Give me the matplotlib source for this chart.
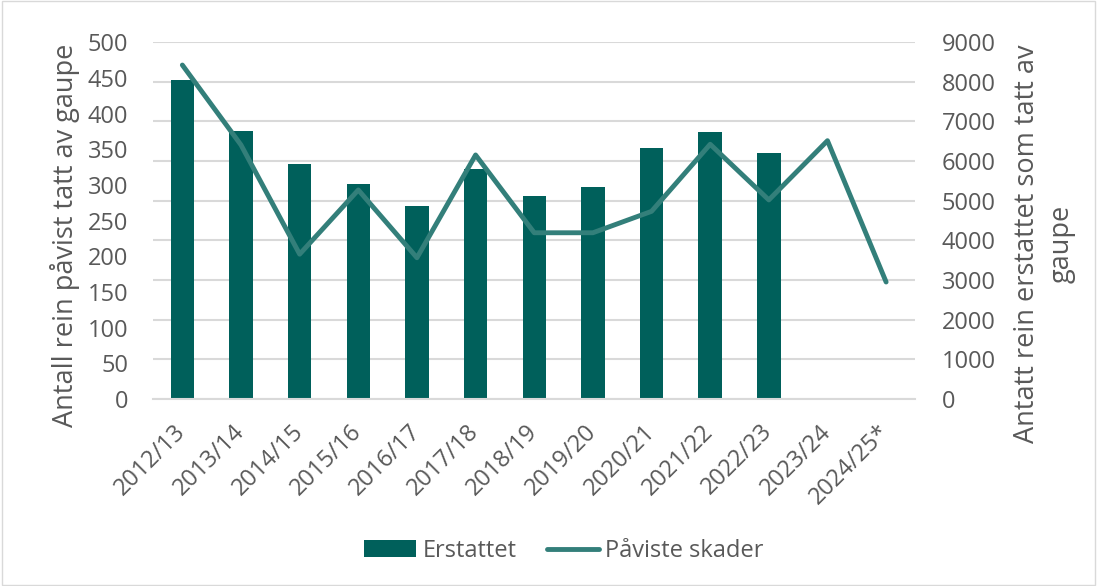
import numpy as np
import matplotlib.pyplot as plt
from matplotlib.lines import Line2D
from matplotlib.patches import Patch

plt.rcParams["font.family"] = ["Open Sans", "DejaVu Sans"]

seasons = ["2012/13", "2013/14", "2014/15", "2015/16", "2016/17", "2017/18", "2018/19",
           "2019/20", "2020/21", "2021/22", "2022/23", "2023/24", "2024/25*"]
# Erstattet (right axis), missing for the last two seasons
erstattet = [8050, 6770, 5930, 5420, 4860, 5800, 5110, 5340, 6330, 6730, 6210, np.nan, np.nan]
# Påviste skader (left axis)
paviste = [468, 356, 203, 293, 198, 342, 233, 233, 263, 357, 279, 362, 164]

bar_color = "#00605B"
line_color = "#337F7A"
text_color = "#595959"
grid_color = "#D9D9D9"

fig = plt.figure(figsize=(10.97, 5.86), dpi=100)
fig.patches.append(plt.Rectangle((0.002, 0.002), 0.996, 0.996, transform=fig.transFigure,
                                 fill=False, edgecolor=grid_color, linewidth=1))
ax = fig.add_axes([0.1395, 0.319, 0.695, 0.609])
ax2 = ax.twinx()

x = np.arange(len(seasons))
ax2.bar(x, erstattet, width=0.4, color=bar_color, zorder=2)
ax.plot(x, paviste, color=line_color, linewidth=3.5, solid_capstyle="round",
        solid_joinstyle="round", zorder=3)

# line above the bars
ax.set_zorder(ax2.get_zorder() + 1)
ax.patch.set_visible(False)

ax.set_xlim(-0.5, len(seasons) - 0.5)
ax.set_ylim(0, 500)
ax2.set_ylim(0, 9000)
ax.set_yticks(np.arange(0, 501, 50))
ax2.set_yticks(np.arange(0, 9001, 1000))
ax2.yaxis.grid(True, color=grid_color, linewidth=1.5, zorder=0)
ax2.set_axisbelow(True)

ax.set_xticks(x)
ax.set_xticklabels(seasons, rotation=45, ha="right", va="center", rotation_mode="anchor")

for a in (ax, ax2):
    for s in a.spines.values():
        s.set_visible(False)
    a.tick_params(length=0, colors=text_color, labelsize=17)
ax.tick_params(axis="x", labelsize=17, pad=21)
ax.tick_params(axis="y", pad=18)
ax2.tick_params(axis="y", pad=19)
ax2.spines["bottom"].set_visible(True)
ax2.spines["bottom"].set_color(grid_color)
ax2.spines["bottom"].set_linewidth(1.5)

fig.text(0.0597, 0.599, "Antall rein påvist tatt av gaupe", rotation=90, ha="center",
         va="center", color=text_color, fontsize=19.5)
fig.text(0.952, 0.584, "Antatt rein erstattet som tatt av\ngaupe", rotation=90, ha="center",
         va="center", multialignment="center", color=text_color, fontsize=19.5,
         linespacing=1.3)

handles = [Patch(facecolor=bar_color), Line2D([], [], color=line_color, linewidth=3.5,
                                              solid_capstyle="round")]
fig.legend(handles, ["Erstattet", "Påviste skader"], loc="center", bbox_to_anchor=(0.514, 0.06),
           ncol=2, frameon=False, fontsize=17, labelcolor=text_color, handlelength=2.2,
           handletextpad=0.25, columnspacing=1.3)

fig.savefig("out.png", dpi=100)
